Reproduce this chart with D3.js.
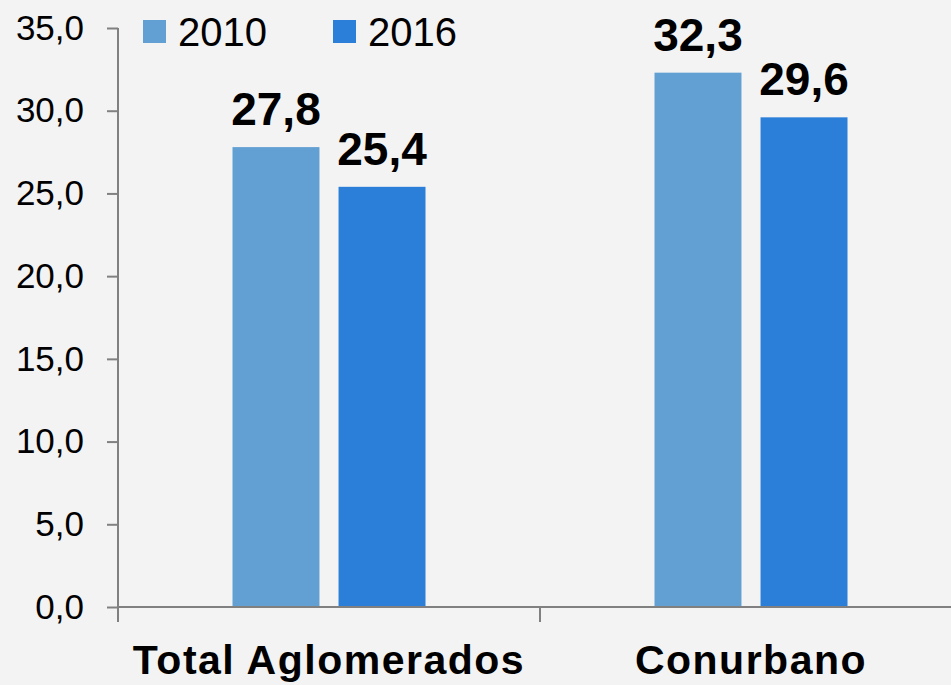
<!DOCTYPE html>
<html>
<head>
<meta charset="utf-8">
<script src="https://cdn.jsdelivr.net/npm/d3@7"></script>
<style>
  body { margin: 0; background: #f3f3f3; }
  svg { display: block; font-family: "Century Gothic", "Liberation Sans", Arial, sans-serif; }
  .tick-label { font-size: 35px; fill: #000; }
  .cat-label { font-size: 41px; font-weight: bold; fill: #000; letter-spacing: 1.5px; }
  .value-label { font-size: 46px; font-weight: bold; fill: #000; }
  .legend-label { font-size: 40px; fill: #000; }
</style>
</head>
<body>
<div id="chart"></div>
<script>
const categories = ["Total Aglomerados", "Conurbano"];
const years = ["2010", "2016"];
const values2010 = [27.8, 32.3];
const values2016 = [25.4, 29.6];
const yTicks = [0, 5, 10, 15, 20, 25, 30, 35];

const WIDTH = 951;
const HEIGHT = 685;
const COLORS = ["#629fd2", "#2b7fd8"];
const AXIS_COLOR = "#808080";

const LEFT = 118, BOTTOM = 607, TOP = 28;

let seriesValues = [values2010, values2016];
let data = categories.map(function(c, i) {
  return { category: c, values: years.map(function(y, j) { return { year: y, value: seriesValues[j][i] }; }) };
});

let svg = d3.select("#chart").append("svg")
  .attr("width", WIDTH)
  .attr("height", HEIGHT)
  .style("background-color", "#f3f3f3");

let y = d3.scaleLinear().domain([0, 35]).range([BOTTOM, TOP]);
let x0 = d3.scaleBand().domain(categories).range([LEFT, LEFT + 844]);
// bars occupy 193px in the middle of each 422px band
let groupPad = (x0.bandwidth() - 193) / 2;
let x1 = d3.scaleBand().domain(years)
  .range([groupPad, x0.bandwidth() - groupPad])
  .paddingInner(0.18);
let color = d3.scaleOrdinal().domain(years).range(COLORS);

let fmt = function(d) { return d3.format(".1f")(d).replace(".", ","); };

// bars
let groups = svg.selectAll("g.group")
  .data(data)
  .enter()
  .append("g")
  .attr("class", "group")
  .attr("transform", function(d) { return "translate(" + x0(d.category) + ",0)"; });

groups.selectAll("rect")
  .data(function(d) { return d.values; })
  .enter()
  .append("rect")
  .attr("x", function(d) { return x1(d.year); })
  .attr("y", function(d) { return y(d.value); })
  .attr("width", x1.bandwidth())
  .attr("height", function(d) { return BOTTOM - y(d.value); })
  .attr("fill", function(d) { return color(d.year); });

groups.selectAll("text.value-label")
  .data(function(d) { return d.values; })
  .enter()
  .append("text")
  .attr("class", "value-label")
  .attr("x", function(d) { return x1(d.year) + x1.bandwidth() / 2; })
  .attr("y", function(d) { return y(d.value) - 22; })
  .attr("text-anchor", "middle")
  .text(function(d) { return fmt(d.value); });

// y axis
let yAxis = svg.append("g")
  .attr("transform", "translate(" + LEFT + ",0)")
  .call(d3.axisLeft(y).tickValues(yTicks).tickSize(11).tickPadding(23).tickFormat(fmt));
yAxis.select(".domain").remove();
yAxis.selectAll(".tick line").attr("stroke", AXIS_COLOR).attr("stroke-width", 2);
yAxis.selectAll(".tick text").attr("class", "tick-label").attr("font-size", null).attr("font-family", null).attr("fill", "#000");

svg.append("line")
  .attr("x1", LEFT).attr("x2", LEFT)
  .attr("y1", y(35)).attr("y2", BOTTOM + 15)
  .attr("stroke", AXIS_COLOR).attr("stroke-width", 2);

// x axis
svg.append("line")
  .attr("x1", LEFT).attr("x2", WIDTH)
  .attr("y1", BOTTOM).attr("y2", BOTTOM)
  .attr("stroke", AXIS_COLOR).attr("stroke-width", 2);

svg.selectAll("line.xtick")
  .data(categories.slice(1))
  .enter()
  .append("line")
  .attr("class", "xtick")
  .attr("x1", function(d) { return x0(d); })
  .attr("x2", function(d) { return x0(d); })
  .attr("y1", BOTTOM).attr("y2", BOTTOM + 15)
  .attr("stroke", AXIS_COLOR).attr("stroke-width", 2);

svg.selectAll("text.cat-label")
  .data(categories)
  .enter()
  .append("text")
  .attr("class", "cat-label")
  .attr("x", function(d) { return x0(d) + x0.bandwidth() / 2; })
  .attr("y", 674)
  .attr("text-anchor", "middle")
  .text(function(d) { return d; });

// legend
let legend = svg.append("g").attr("transform", "translate(143,20)");
let items = legend.selectAll("g.item")
  .data(years)
  .enter()
  .append("g")
  .attr("class", "item")
  .attr("transform", function(d, i) { return "translate(" + (i * 190) + ",0)"; });

items.append("rect")
  .attr("width", 23)
  .attr("height", 23)
  .attr("fill", function(d) { return color(d); });

items.append("text")
  .attr("class", "legend-label")
  .attr("x", 35)
  .attr("y", 26)
  .text(function(d) { return d; });
</script>
</body>
</html>
